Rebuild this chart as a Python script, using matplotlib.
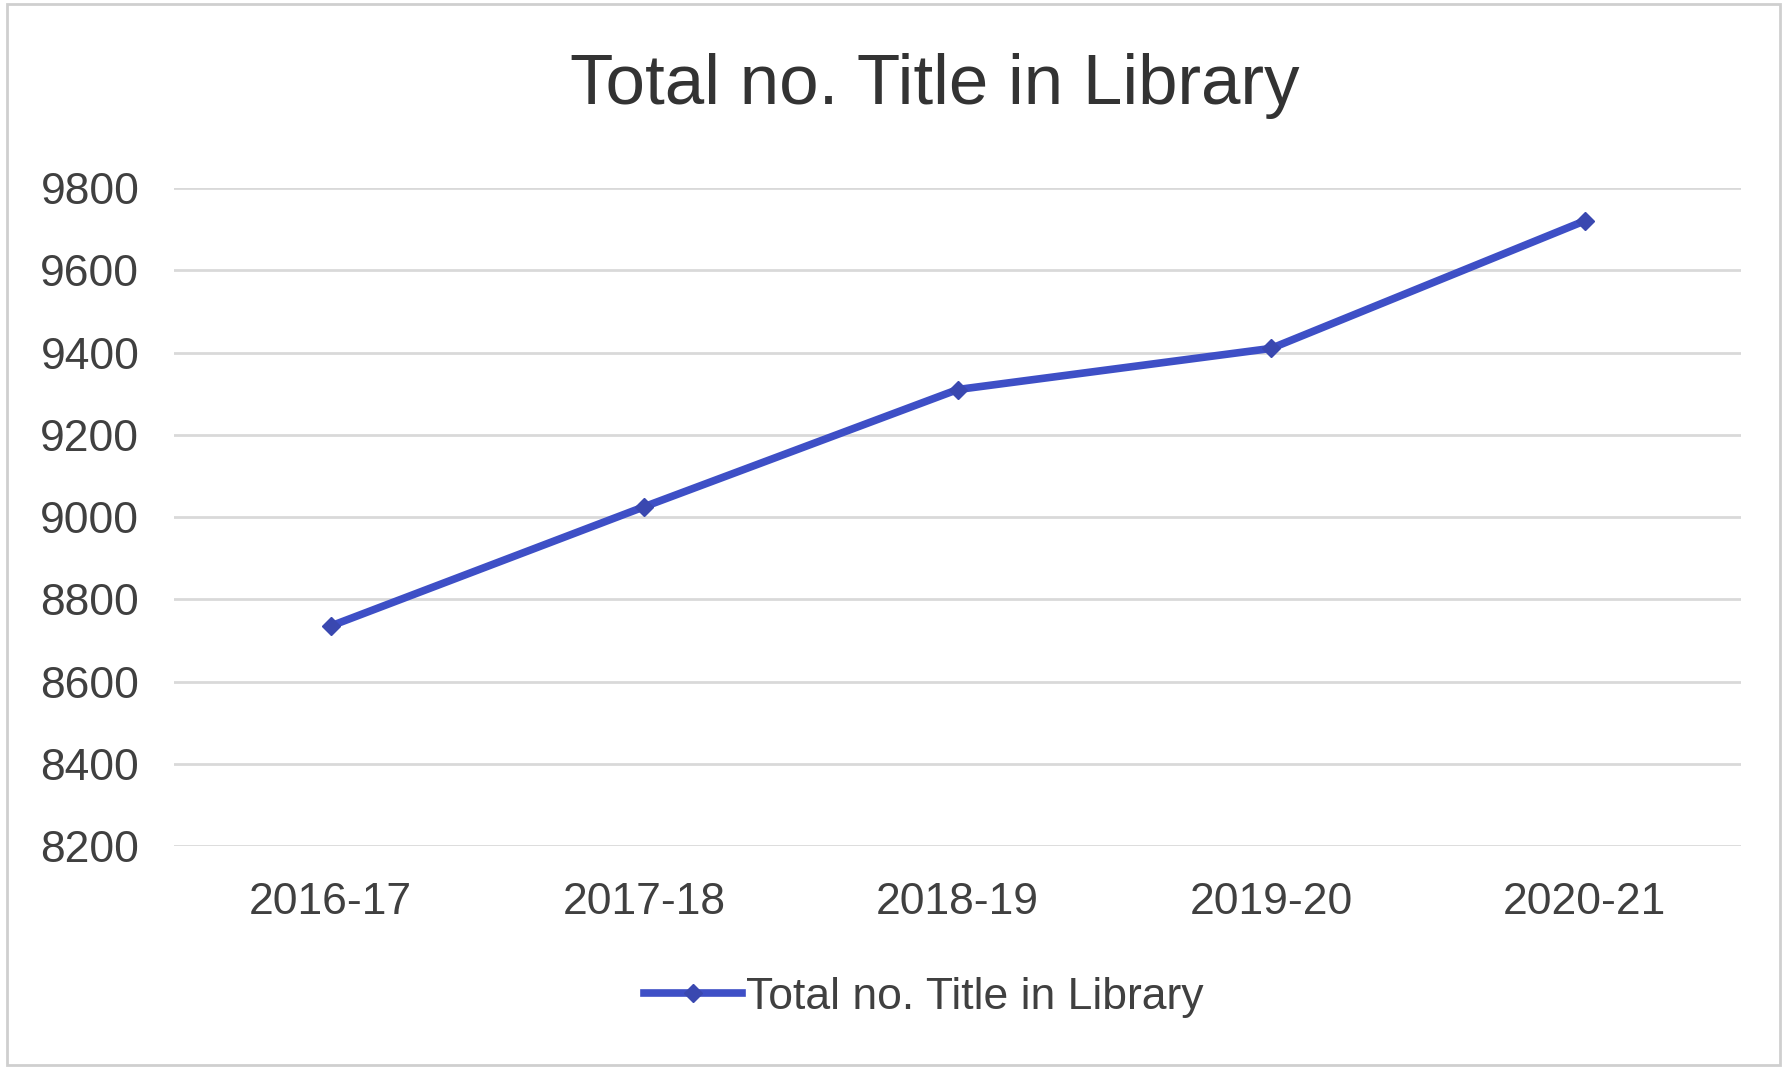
import matplotlib.pyplot as plt
from matplotlib.patches import Rectangle

# values
years = ['2016-17', '2017-18', '2018-19', '2019-20', '2020-21']
titles = [8735, 9025, 9310, 9410, 9720]
y_ticks = [8200, 8400, 8600, 8800, 9000, 9200, 9400, 9600, 9800]

plt.rcParams['font.family'] = ['Liberation Sans', 'DejaVu Sans']

fig = plt.figure(figsize=(17.87, 10.69), dpi=100)
ax = fig.add_axes([0.0974, 0.2086, 0.877, 0.6155])

x = range(len(years))
ax.plot(x, titles, color='#3e4fc6', linewidth=5.5, marker='D', markersize=9,
        markerfacecolor='#3a48b0', markeredgecolor='#3a48b0',
        label='Total no. Title in Library', zorder=3)

ax.set_xlim(-0.5, len(years) - 0.5)
ax.set_ylim(y_ticks[0], y_ticks[-1])
ax.set_xticks(list(x))
ax.set_xticklabels(years)
ax.set_yticks(y_ticks)
ax.tick_params(axis='both', length=0, labelsize=32, labelcolor='#404040')
ax.tick_params(axis='y', pad=25)
ax.tick_params(axis='x', pad=26)
ax.grid(axis='y', color='#d9d9d9', linewidth=2)
ax.set_axisbelow(True)
for s in ax.spines.values():
    s.set_visible(False)

fig.text(0.523, 0.92, 'Total no. Title in Library', ha='center', va='center',
         fontsize=51, color='#333333')

fig.legend(loc='center', bbox_to_anchor=(0.517, 0.067), frameon=False,
           fontsize=32, handlelength=2.2, handletextpad=0.1,
           labelcolor='#404040')

fig.patches.append(Rectangle((0.004, 0.004), 0.992, 0.992, transform=fig.transFigure,
                             fill=False, edgecolor='#cfcfcf', linewidth=2))

fig.savefig('out.png', dpi=100)
